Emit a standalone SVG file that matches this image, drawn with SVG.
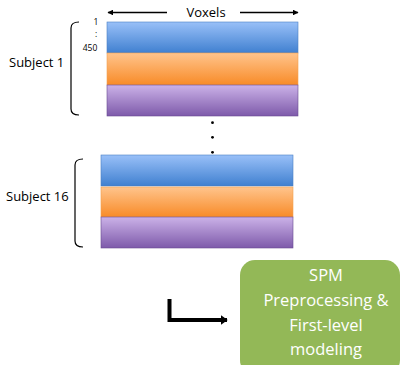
<svg xmlns="http://www.w3.org/2000/svg" width="402" height="365" viewBox="0 0 402 365">
<defs>
<linearGradient id="gBlue" x1="0" y1="0" x2="0" y2="1"><stop offset="0" stop-color="#99c0f8"/><stop offset="1" stop-color="#4080d0"/></linearGradient>
<linearGradient id="gOrange" x1="0" y1="0" x2="0" y2="1"><stop offset="0" stop-color="#ffc48c"/><stop offset="1" stop-color="#f88b28"/></linearGradient>
<linearGradient id="gPurple" x1="0" y1="0" x2="0" y2="1"><stop offset="0" stop-color="#cbb2e8"/><stop offset="1" stop-color="#7e5aaa"/></linearGradient>
<marker id="ah" viewBox="0 0 10 10" refX="9" refY="5" markerWidth="3.5" markerHeight="3.5" orient="auto-start-reverse" markerUnits="strokeWidth"><path d="M0,0 L10,5 L0,10 z" fill="#000"/></marker>
<marker id="ah2" viewBox="0 0 10 10" refX="9" refY="5" markerWidth="1.8" markerHeight="2.6" orient="auto" markerUnits="strokeWidth" preserveAspectRatio="none"><path d="M0,0 L10,5 L0,10 z" fill="#000"/></marker>
</defs>
<style>
.lbl{font-family:"Open Sans","Liberation Sans",sans-serif;font-size:13px;fill:#000}
.sm{font-family:"Open Sans","Liberation Sans",sans-serif;font-size:8.5px;fill:#000}
.wt{font-family:"Open Sans","Liberation Sans",sans-serif;font-size:16.5px;fill:#fff;text-anchor:middle}
.br{fill:none;stroke:#000;stroke-width:1.2}
.bb{stroke:#4a7fc4;stroke-width:0.6}
.bo{stroke:#f0a050;stroke-width:0.6}
.bp{stroke:#6a4b92;stroke-width:0.6}
</style>
<g id="voxels">
<line x1="167" y1="12.5" x2="108" y2="12.5" stroke="#000" stroke-width="1.6" marker-end="url(#ah)"/>
<text class="lbl" x="206" y="17" text-anchor="middle">Voxels</text>
<line x1="240" y1="12.5" x2="298" y2="12.5" stroke="#000" stroke-width="1.6" marker-end="url(#ah)"/>
</g>
<g id="subject1">
<rect x="107" y="22" width="191" height="31" fill="url(#gBlue)" class="bb"/>
<rect x="107" y="53" width="191" height="32" fill="url(#gOrange)" class="bo"/>
<rect x="107" y="85" width="191" height="31" fill="url(#gPurple)" class="bp"/>
<path class="br" d="M79,22 Q71,22 71,28 L71,109 Q71,115 79,115"/>
<text class="lbl" x="9" y="67">Subject 1</text>
<text class="sm" x="96" y="24.5" text-anchor="middle">1</text>
<text class="sm" x="96" y="37" text-anchor="middle">:</text>
<text class="sm" x="90" y="50.5" text-anchor="middle">450</text>
</g>
<g id="dots">
<circle cx="212.5" cy="122.7" r="1.4" fill="#000"/>
<circle cx="212.5" cy="137.3" r="1.4" fill="#000"/>
<circle cx="212.5" cy="152.3" r="1.4" fill="#000"/>
</g>
<g id="subject16">
<rect x="101" y="155" width="192" height="31" fill="url(#gBlue)" class="bb"/>
<rect x="101" y="187" width="192" height="30" fill="url(#gOrange)" class="bo"/>
<rect x="101" y="217" width="192" height="31" fill="url(#gPurple)" class="bp"/>
<path class="br" d="M83,159 Q75,159 75,165 L75,241 Q75,247 83,247"/>
<text class="lbl" x="6" y="201">Subject 16</text>
</g>
<g id="connectors">
<path d="M169.5,299 L169.5,320 L227,320" fill="none" stroke="#000" stroke-width="4" marker-end="url(#ah2)"/>
</g>
<g id="spm">
<rect x="240" y="260" width="160" height="115" rx="15" fill="#93b857"/>
<text class="wt" x="326" y="281">SPM</text>
<text class="wt" x="326" y="306">Preprocessing &amp;</text>
<text class="wt" x="326" y="331">First-level</text>
<text class="wt" x="326" y="355">modeling</text>
</g>
</svg>
